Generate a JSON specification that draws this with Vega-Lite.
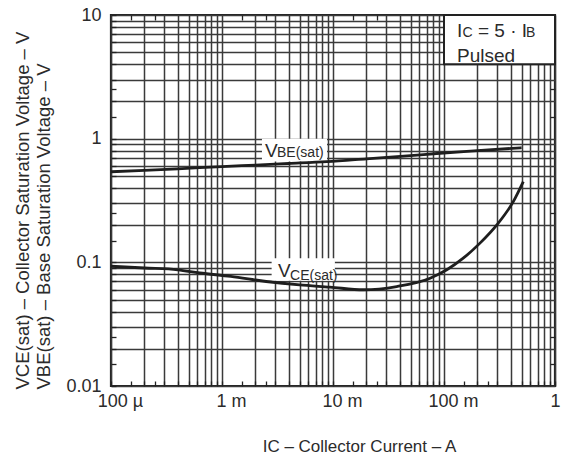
{
  "$schema": "https://vega.github.io/schema/vega-lite/v6.json",
  "width": 444,
  "height": 371,
  "autosize": "none",
  "padding": {"left": 111, "top": 15, "right": 15, "bottom": 71},
  "background": "white",
  "config": {
    "view": {"stroke": "#222222", "strokeWidth": 2.2},
    "axis": {
      "labelFont": "Liberation Sans",
      "titleFont": "Liberation Sans",
      "labelColor": "#2b2b2b",
      "titleColor": "#2b2b2b",
      "titleFontWeight": "normal",
      "tickColor": "#222222",
      "tickWidth": 1.3
    },
    "text": {"font": "Liberation Sans", "color": "#2b2b2b"}
  },
  "datasets": {
    "curves": [
      {"I": 0.0001, "V": 0.54, "series": "VBE(sat)"},
      {"I": 0.0002, "V": 0.555, "series": "VBE(sat)"},
      {"I": 0.0004, "V": 0.57, "series": "VBE(sat)"},
      {"I": 0.00063, "V": 0.583, "series": "VBE(sat)"},
      {"I": 0.001, "V": 0.595, "series": "VBE(sat)"},
      {"I": 0.002, "V": 0.612, "series": "VBE(sat)"},
      {"I": 0.004, "V": 0.63, "series": "VBE(sat)"},
      {"I": 0.0088, "V": 0.652, "series": "VBE(sat)"},
      {"I": 0.02, "V": 0.687, "series": "VBE(sat)"},
      {"I": 0.05, "V": 0.73, "series": "VBE(sat)"},
      {"I": 0.092, "V": 0.762, "series": "VBE(sat)"},
      {"I": 0.2, "V": 0.8, "series": "VBE(sat)"},
      {"I": 0.5, "V": 0.845, "series": "VBE(sat)"},
      {"I": 0.0001, "V": 0.093, "series": "VCE(sat)"},
      {"I": 0.0002, "V": 0.09, "series": "VCE(sat)"},
      {"I": 0.0004, "V": 0.087, "series": "VCE(sat)"},
      {"I": 0.00063, "V": 0.082, "series": "VCE(sat)"},
      {"I": 0.0012, "V": 0.077, "series": "VCE(sat)"},
      {"I": 0.0025, "V": 0.07, "series": "VCE(sat)"},
      {"I": 0.005, "V": 0.0656, "series": "VCE(sat)"},
      {"I": 0.0094, "V": 0.063, "series": "VCE(sat)"},
      {"I": 0.0188, "V": 0.06, "series": "VCE(sat)"},
      {"I": 0.0375, "V": 0.0637, "series": "VCE(sat)"},
      {"I": 0.075, "V": 0.0744, "series": "VCE(sat)"},
      {"I": 0.106, "V": 0.087, "series": "VCE(sat)"},
      {"I": 0.149, "V": 0.108, "series": "VCE(sat)"},
      {"I": 0.211, "V": 0.143, "series": "VCE(sat)"},
      {"I": 0.298, "V": 0.2, "series": "VCE(sat)"},
      {"I": 0.421, "V": 0.31, "series": "VCE(sat)"},
      {"I": 0.518, "V": 0.45, "series": "VCE(sat)"}
    ],
    "legendbox": [{"x": 0.1, "x2": 1, "y": 4, "y2": 10}],
    "labelboxes": [
      {"x": 0.00229, "x2": 0.00883, "y": 1.0, "y2": 0.655},
      {"x": 0.0028, "x2": 0.0104, "y": 0.108, "y2": 0.071}
    ],
    "bigtext": [
      {"x": 0.00244, "y": 0.711, "t": "V"},
      {"x": 0.0032, "y": 0.0766, "t": "V"},
      {"x": 0.1309, "y": 6.7, "t": "I"},
      {"x": 0.2024, "y": 6.7, "t": "= 5 · I"},
      {"x": 0.1309, "y": 4.19, "t": "Pulsed"}
    ],
    "smalltext": [
      {"x": 0.00313, "y": 0.711, "t": "BE(sat)"},
      {"x": 0.0041, "y": 0.0721, "t": "CE(sat)"},
      {"x": 0.1468, "y": 6.7, "t": "C"},
      {"x": 0.548, "y": 6.7, "t": "B"}
    ]
  },
  "layer": [
    {
      "data": {"name": "legendbox"},
      "mark": {"type": "rect", "fill": "white", "stroke": "#222222", "strokeWidth": 2},
      "encoding": {
        "x": {"field": "x", "type": "quantitative",
          "scale": {"type": "log", "domain": [0.0001, 1], "nice": false},
          "axis": {"orient": "top", "values": [0.00015, 0.00025, 0.0015, 0.0025, 0.015, 0.025, 0.15, 0.25],
            "grid": false, "domain": false, "labels": false, "ticks": true, "tickSize": -5, "title": null}},
        "x2": {"field": "x2"},
        "y": {"field": "y", "type": "quantitative",
          "scale": {"type": "log", "domain": [0.01, 10], "nice": false},
          "axis": {"orient": "right", "values": [0.015, 0.025, 0.15, 0.25, 1.5, 2.5],
            "grid": false, "domain": false, "labels": false, "ticks": true, "tickSize": -5, "title": null}},
        "y2": {"field": "y2"}
      }
    },
    {
      "data": {"name": "labelboxes"},
      "mark": {"type": "rect", "fill": "white"},
      "encoding": {
        "x": {"field": "x", "type": "quantitative", "scale": {"type": "log", "domain": [0.0001, 1], "nice": false}, "axis": null},
        "x2": {"field": "x2"},
        "y": {"field": "y", "type": "quantitative", "scale": {"type": "log", "domain": [0.01, 10], "nice": false}, "axis": null},
        "y2": {"field": "y2"}
      }
    },
    {
      "data": {"name": "curves"},
      "mark": {"type": "line", "interpolate": "monotone", "stroke": "#1e1e1e", "strokeWidth": 2.8},
      "encoding": {
        "detail": {"field": "series"},
        "x": {"field": "I", "type": "quantitative",
          "scale": {"type": "log", "domain": [0.0001, 1], "nice": false},
          "axis": {
            "orient": "bottom",
            "values": [0.0001, 0.00015, 0.0002, 0.00025, 0.0003, 0.0004, 0.0005, 0.0006, 0.0007, 0.0008, 0.0009,
              0.001, 0.0015, 0.002, 0.0025, 0.003, 0.004, 0.005, 0.006, 0.007, 0.008, 0.009,
              0.01, 0.015, 0.02, 0.025, 0.03, 0.04, 0.05, 0.06, 0.07, 0.08, 0.09,
              0.1, 0.15, 0.2, 0.25, 0.3, 0.4, 0.5, 0.6, 0.7, 0.8, 0.9, 1],
            "grid": true, "gridColor": "#3a3a3a", "gridWidth": 1.5,
            "gridOpacity": {"condition": {"test": "abs(datum.value / pow(10, floor(log(datum.value) / LN10 + 0.000001)) - round(datum.value / pow(10, floor(log(datum.value) / LN10 + 0.000001)))) > 0.25", "value": 0}, "value": 1},
            "domain": false, "ticks": true, "tickSize": -5,
            "labelExpr": "datum.value == 0.0001 ? '100 µ' : datum.value == 0.001 ? '1 m' : datum.value == 0.01 ? '10 m' : datum.value == 0.1 ? '100 m' : datum.value == 1 ? '1' : ''",
            "labelFontSize": 18, "labelPadding": 11, "labelAlign": "center",
            "labelOffset": {"condition": {"test": "datum.value == 1", "value": 0}, "value": 9},
            "labelFlush": false, "labelOverlap": false, "labelBound": false,
            "title": "IC – Collector Current – A",
            "titleFontSize": 17, "titleX": 248, "titleY": 65, "titleAlign": "center", "titleBaseline": "alphabetic"
          }},
        "y": {"field": "V", "type": "quantitative",
          "scale": {"type": "log", "domain": [0.01, 10], "nice": false},
          "axis": {
            "orient": "left",
            "values": [0.01, 0.015, 0.02, 0.025, 0.03, 0.04, 0.05, 0.06, 0.07, 0.08, 0.09,
              0.1, 0.15, 0.2, 0.25, 0.3, 0.4, 0.5, 0.6, 0.7, 0.8, 0.9,
              1, 1.5, 2, 2.5, 3, 4, 5, 6, 7, 8, 9, 10],
            "grid": true, "gridColor": "#3a3a3a", "gridWidth": 1.5,
            "gridOpacity": {"condition": {"test": "abs(datum.value / pow(10, floor(log(datum.value) / LN10 + 0.000001)) - round(datum.value / pow(10, floor(log(datum.value) / LN10 + 0.000001)))) > 0.25", "value": 0}, "value": 1},
            "domain": false, "ticks": true, "tickSize": -5,
            "labelExpr": "datum.value == 10 ? '10' : datum.value == 1 ? '1' : datum.value == 0.1 ? '0.1' : datum.value == 0.01 ? '0.01' : ''",
            "labelFontSize": 18, "labelPadding": 15,
            "labelFlush": false, "labelOverlap": false, "labelBound": false,
            "title": ["VCE(sat) – Collector Saturation Voltage – V", "VBE(sat) – Base Saturation Voltage – V"],
            "titleFontSize": 18.5, "titleLineHeight": 21,
            "titleX": -79, "titleY": 374, "titleAngle": -90, "titleAlign": "left", "titleBaseline": "bottom"
          }}
      }
    },
    {
      "data": {"name": "bigtext"},
      "mark": {"type": "text", "fontSize": 19, "align": "left", "baseline": "alphabetic"},
      "encoding": {
        "x": {"field": "x", "type": "quantitative", "scale": {"type": "log", "domain": [0.0001, 1], "nice": false}, "axis": null},
        "y": {"field": "y", "type": "quantitative", "scale": {"type": "log", "domain": [0.01, 10], "nice": false}, "axis": null},
        "text": {"field": "t"}
      }
    },
    {
      "data": {"name": "smalltext"},
      "mark": {"type": "text", "fontSize": 14, "align": "left", "baseline": "alphabetic"},
      "encoding": {
        "x": {"field": "x", "type": "quantitative", "scale": {"type": "log", "domain": [0.0001, 1], "nice": false}, "axis": null},
        "y": {"field": "y", "type": "quantitative", "scale": {"type": "log", "domain": [0.01, 10], "nice": false}, "axis": null},
        "text": {"field": "t"}
      }
    }
  ]
}
